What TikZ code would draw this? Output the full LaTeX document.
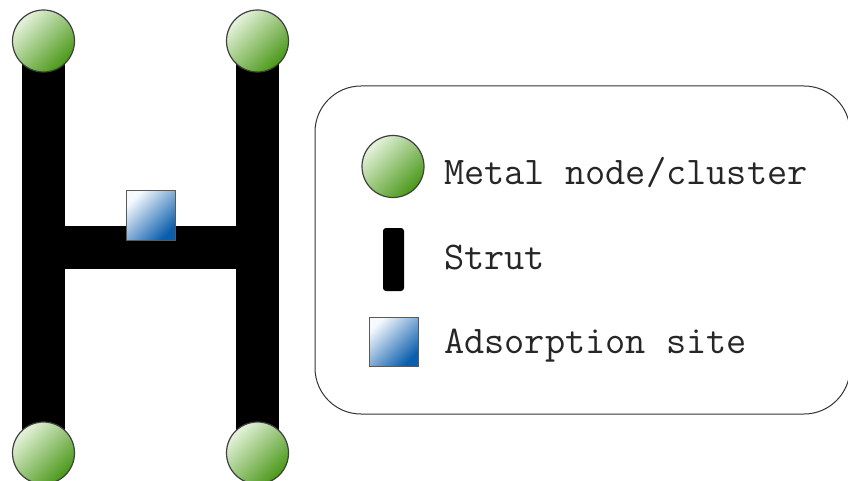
\documentclass[tikz,border=0pt]{standalone}
\begin{document}
\begin{tikzpicture}[x=1pt,y=-1pt]
\definecolor{mlight}{HTML}{E6F3DC}
\definecolor{mdark}{HTML}{4A9818}
\definecolor{slight}{HTML}{F6FAFE}
\definecolor{sdark}{HTML}{0A5EAC}
\tikzset{
  metal/.style={circle,draw=black!75,line width=1.2pt,minimum size=62pt,inner sep=0pt,
    top color=mlight,bottom color=mdark,shading angle=45},
  site/.style={rectangle,draw=black!65,line width=1pt,minimum size=49pt,inner sep=0pt,
    top color=slight,bottom color=sdark,shading angle=45},
  strutline/.style={line width=43pt,black},
  legendtext/.style={anchor=base west,inner sep=0pt,font=\fontsize{39.2}{44}\selectfont\ttfamily,text=black!85},
  legendbox/.style={draw=black!80,line width=1pt,rounded corners=46pt}
}
\useasboundingbox (0,0) rectangle (848,481);
% centres
\coordinate (ctl) at (43.5,41);
\coordinate (ctr) at (257.5,41);
\coordinate (cbl) at (43.5,453);
\coordinate (cbr) at (257.5,453);
\coordinate (xl) at (43.5,247);
\coordinate (xr) at (257.5,247);
% struts
\draw[strutline] (ctl) -- (cbl);
\draw[strutline] (ctr) -- (cbr);
\draw[strutline] (xl) -- (xr);
% metal nodes
\node[metal] (tl) at (ctl) {};
\node[metal] (tr) at (ctr) {};
\node[metal] (bl) at (cbl) {};
\node[metal] (br) at (cbr) {};
% adsorption site
\node[site] (s) at (151,215.5) {};
% legend
\node[legendbox,minimum width=535pt,minimum height=328pt,inner sep=0pt] (box) at (582.5,250) {};
\node[metal] (lm) at (393,166.5) {};
\node[fill=black,rounded corners=3pt,minimum width=21pt,minimum height=63pt,inner sep=0pt] (ls) at (393.5,259.5) {};
\node[site] (lsite) at (393.5,341.5) {};
\node[legendtext] (t1) at (444,185) {Metal node/cluster};
\node[legendtext] (t2) at (444,269) {Strut};
\node[legendtext] (t3) at (444,353) {Adsorption site};
\end{tikzpicture}
\end{document}
